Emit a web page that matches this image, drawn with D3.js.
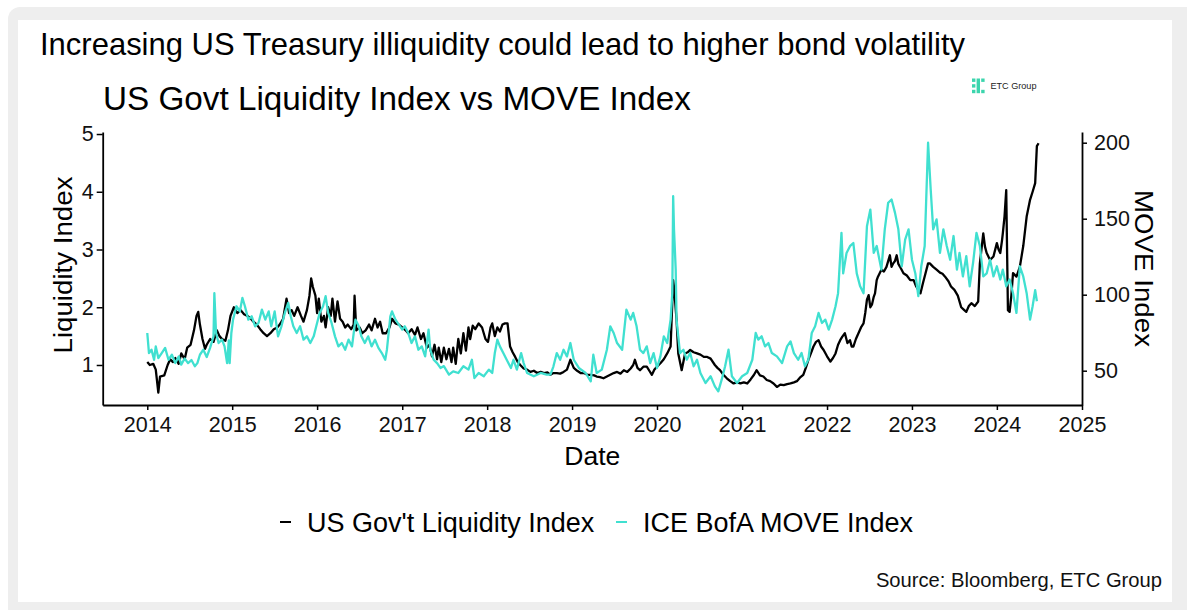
<!DOCTYPE html>
<html>
<head>
<meta charset="utf-8">
<script src="https://cdn.jsdelivr.net/npm/d3@7"></script>
<style>
  html, body { margin: 0; padding: 0; background: #ffffff; }
  svg { display: block; font-family: "Liberation Sans", Arial, Helvetica, sans-serif; }
</style>
</head>
<body>
<svg id="chart" width="1187" height="610"></svg>
<script>
// ---- data (decimal years / index levels) ----
const liqYears = [
  2014.00,2014.03,2014.07,2014.10,2014.13,2014.15,2014.20,2014.24,2014.27,2014.30,2014.33,2014.37,2014.40,2014.44,2014.47,2014.51,2014.55,2014.58,2014.60,2014.62,2014.65,2014.68,2014.70,2014.74,2014.78,2014.82,2014.85,2014.88,2014.92,2014.95,2014.98,
  2015.02,2015.06,2015.10,2015.14,2015.18,2015.22,2015.25,2015.29,2015.33,2015.37,2015.41,2015.45,2015.49,2015.53,2015.56,2015.60,2015.64,2015.67,2015.70,2015.73,2015.77,2015.81,2015.84,2015.88,2015.91,2015.93,2015.95,2015.98,
  2016.00,2016.02,2016.05,2016.08,2016.10,2016.13,2016.16,2016.18,2016.21,2016.24,2016.27,2016.30,2016.33,2016.36,2016.40,2016.43,2016.44,2016.46,2016.50,2016.53,2016.57,2016.61,2016.64,2016.68,2016.71,2016.74,2016.77,2016.81,2016.85,2016.88,2016.92,2016.96,
  2017.00,2017.04,2017.07,2017.11,2017.15,2017.18,2017.22,2017.25,2017.29,2017.32,2017.35,2017.38,2017.41,2017.43,2017.46,2017.49,2017.52,2017.55,2017.58,2017.60,2017.63,2017.66,2017.69,2017.72,2017.75,2017.78,2017.80,2017.83,2017.86,2017.90,2017.94,2017.98,
  2018.01,2018.04,2018.06,2018.09,2018.12,2018.15,2018.18,2018.21,2018.24,2018.27,2018.30,2018.33,2018.36,2018.39,2018.43,2018.47,2018.51,2018.55,2018.59,2018.63,2018.67,2018.71,2018.745,2018.78,2018.82,2018.86,2018.90,2018.94,2018.98,
  2019.02,2019.06,2019.10,2019.14,2019.18,2019.22,2019.26,2019.29,2019.33,2019.37,2019.41,2019.45,2019.49,2019.53,2019.57,2019.61,2019.65,2019.69,2019.72,2019.74,2019.77,2019.80,2019.84,2019.88,2019.91,2019.94,2019.97,
  2020.00,2020.04,2020.08,2020.12,2020.16,2020.19,2020.20,2020.23,2020.25,2020.29,2020.33,2020.36,2020.39,2020.43,2020.47,2020.51,2020.55,2020.59,2020.63,2020.68,2020.71,2020.74,2020.78,2020.82,2020.86,2020.90,2020.94,2020.98,
  2021.02,2021.06,2021.10,2021.14,2021.17,2021.21,2021.25,2021.29,2021.33,2021.37,2021.41,2021.45,2021.49,2021.53,2021.57,2021.61,2021.645,2021.68,2021.72,2021.75,2021.78,2021.81,2021.84,2021.87,2021.90,2021.93,2021.96,
  2022.00,2022.04,2022.07,2022.10,2022.13,2022.155,2022.18,2022.21,2022.24,2022.27,2022.29,2022.31,2022.34,2022.37,2022.40,2022.43,2022.45,2022.47,2022.49,2022.51,2022.53,2022.55,2022.565,2022.585,2022.60,2022.64,2022.67,2022.70,2022.72,2022.74,2022.76,2022.78,2022.80,2022.82,2022.84,2022.86,2022.90,2022.94,2022.98,
  2023.02,2023.05,2023.075,2023.10,2023.13,2023.16,2023.19,2023.21,2023.25,2023.29,2023.33,2023.36,2023.39,2023.43,2023.46,2023.50,2023.54,2023.58,2023.61,2023.64,2023.67,2023.70,2023.74,2023.78,2023.80,2023.84,2023.86,2023.88,2023.92,2023.96,
  2024.00,2024.02,2024.04,2024.06,2024.07,2024.09,2024.11,2024.13,2024.15,2024.17,2024.19,2024.23,2024.27,2024.31,2024.35,2024.39,2024.42,2024.45,2024.47,2024.49
];
const liqValues = [
  1.05,1.00,1.02,0.92,0.52,0.80,0.82,1.00,1.10,1.05,1.12,1.02,1.20,1.10,1.30,1.35,1.60,1.85,1.92,1.70,1.45,1.28,1.35,1.45,1.40,1.60,1.50,1.45,1.42,1.60,1.85,
  2.00,1.90,1.95,1.88,1.85,1.80,1.75,1.70,1.62,1.55,1.50,1.55,1.62,1.65,1.70,1.80,2.15,1.90,1.95,1.85,2.00,1.85,1.75,1.95,2.20,2.50,2.35,2.20,
  1.90,2.15,1.75,1.85,1.65,2.00,1.85,2.15,1.75,2.10,1.80,1.75,1.65,1.70,1.62,1.70,2.20,1.60,1.65,1.55,1.60,1.70,1.60,1.80,1.65,1.75,1.55,1.55,1.65,1.80,1.72,1.70,
  1.65,1.60,1.55,1.62,1.52,1.65,1.45,1.55,1.30,1.35,1.15,1.35,1.10,1.30,1.05,1.30,1.10,1.28,1.05,1.30,1.02,1.45,1.20,1.55,1.25,1.65,1.45,1.68,1.62,1.72,1.65,1.45,
  1.40,1.65,1.72,1.50,1.65,1.58,1.70,1.72,1.72,1.32,1.22,1.14,1.05,1.00,0.94,0.92,0.88,0.90,0.86,0.88,0.86,0.87,0.83,0.86,0.86,0.85,0.88,0.92,1.09,
  0.95,0.90,0.86,0.86,0.83,0.83,0.82,0.80,0.79,0.77,0.80,0.83,0.86,0.88,0.85,0.91,0.88,0.94,1.00,1.09,0.95,0.91,0.97,0.97,0.90,0.83,0.92,
  0.97,1.03,1.10,1.20,1.32,2.47,2.35,1.78,1.20,0.91,1.20,1.22,1.26,1.22,1.20,1.18,1.14,1.14,1.11,1.00,0.95,0.91,0.83,0.77,0.72,0.68,0.70,0.68,
  0.70,0.68,0.75,0.83,0.91,0.82,0.80,0.74,0.72,0.68,0.62,0.66,0.65,0.67,0.68,0.70,0.72,0.78,0.83,0.95,1.09,1.20,1.32,1.40,1.43,1.32,1.26,
  1.15,1.06,1.12,1.20,1.35,1.43,1.49,1.55,1.38,1.43,1.32,1.32,1.45,1.55,1.65,1.72,1.90,2.13,2.21,2.00,2.05,2.18,2.24,2.47,2.53,2.65,2.62,2.70,2.80,2.90,2.70,2.76,2.80,2.90,2.75,2.70,2.59,2.55,2.47,
  2.47,2.36,2.30,2.24,2.42,2.59,2.76,2.76,2.70,2.65,2.60,2.58,2.53,2.45,2.36,2.30,2.20,2.00,1.96,1.92,2.02,2.07,2.02,2.10,2.76,3.28,3.05,2.94,2.82,2.88,
  3.11,3.00,2.94,3.15,3.28,3.57,4.03,1.95,1.92,2.20,2.59,2.53,2.70,3.06,3.57,3.86,4.00,4.15,4.79,4.84
];

const moveYears = [
  2014.00,2014.02,2014.05,2014.08,2014.10,2014.13,2014.17,2014.21,2014.25,2014.29,2014.33,2014.37,2014.40,2014.44,2014.48,2014.52,2014.56,2014.59,2014.62,2014.66,2014.70,2014.74,2014.78,2014.79,2014.81,2014.84,2014.88,2014.91,2014.94,2014.96,2014.97,2014.99,
  2015.01,2015.05,2015.09,2015.12,2015.15,2015.19,2015.23,2015.27,2015.31,2015.35,2015.39,2015.43,2015.46,2015.50,2015.54,2015.58,2015.62,2015.66,2015.69,2015.72,2015.76,2015.80,2015.84,2015.88,2015.92,2015.96,2015.99,
  2016.03,2016.07,2016.10,2016.13,2016.17,2016.21,2016.25,2016.29,2016.33,2016.37,2016.41,2016.45,2016.49,2016.52,2016.56,2016.60,2016.64,2016.68,2016.72,2016.76,2016.80,2016.82,2016.86,2016.88,2016.92,2016.96,
  2017.00,2017.03,2017.07,2017.11,2017.15,2017.19,2017.23,2017.27,2017.31,2017.33,2017.37,2017.41,2017.45,2017.49,2017.55,2017.60,2017.66,2017.72,2017.78,2017.82,2017.85,2017.90,2017.96,
  2018.02,2018.06,2018.09,2018.12,2018.15,2018.19,2018.23,2018.28,2018.31,2018.35,2018.40,2018.43,2018.47,2018.55,2018.63,2018.70,2018.745,2018.78,2018.82,2018.86,2018.90,2018.94,2018.98,
  2019.02,2019.08,2019.16,2019.22,2019.25,2019.29,2019.35,2019.41,2019.45,2019.49,2019.53,2019.59,2019.64,2019.69,2019.72,2019.76,2019.80,2019.84,2019.88,2019.92,2019.96,
  2020.00,2020.04,2020.08,2020.12,2020.16,2020.18,2020.19,2020.20,2020.22,2020.23,2020.27,2020.31,2020.35,2020.39,2020.43,2020.47,2020.51,2020.57,2020.63,2020.68,2020.72,2020.76,2020.80,2020.84,2020.88,2020.94,
  2021.00,2021.06,2021.12,2021.16,2021.19,2021.23,2021.27,2021.31,2021.35,2021.41,2021.47,2021.53,2021.57,2021.61,2021.66,2021.70,2021.74,2021.78,2021.82,2021.86,2021.90,2021.94,2021.98,
  2022.02,2022.06,2022.10,2022.13,2022.17,2022.19,2022.23,2022.27,2022.31,2022.35,2022.39,2022.43,2022.47,2022.51,2022.55,2022.585,2022.64,2022.68,2022.72,2022.76,2022.80,2022.84,2022.88,2022.92,2022.96,
  2023.00,2023.04,2023.075,2023.11,2023.15,2023.19,2023.22,2023.25,2023.29,2023.33,2023.37,2023.41,2023.45,2023.49,2023.53,2023.56,2023.60,2023.64,2023.68,2023.72,2023.76,2023.80,2023.84,2023.88,2023.92,2023.96,
  2024.00,2024.04,2024.07,2024.11,2024.15,2024.19,2024.23,2024.27,2024.31,2024.35,2024.39,2024.42,2024.45,2024.47
];
const moveValues = [
  74.8,61.6,63.8,57.2,66.0,58.3,61.6,65.0,57.2,60.5,55.0,59.4,54.0,58.0,55.0,57.0,52.9,55.0,60.5,63.8,59.0,65.0,72.6,101.0,74.8,68.2,70.4,66.0,55.0,70.0,55.0,74.8,
  83.6,92.4,89.0,97.9,92.4,83.6,85.8,79.2,81.4,90.2,83.6,89.0,79.2,89.0,72.6,79.2,88.0,94.6,85.8,79.2,74.8,79.2,70.4,72.6,68.2,72.6,79.2,
  88.0,92.4,99.0,88.0,81.4,72.6,66.0,68.2,63.8,70.4,66.0,83.6,79.2,72.6,68.2,72.6,66.0,70.4,65.0,61.6,57.2,63.8,85.8,89.0,83.6,80.3,
  77.0,79.2,74.8,68.2,72.6,63.8,66.0,59.4,77.0,63.8,57.2,55.0,51.8,53.0,47.4,49.6,48.5,52.9,50.7,57.2,45.2,48.5,46.3,
  50.7,48.5,61.6,70.4,66.0,61.6,57.2,51.8,57.2,50.7,61.6,55.0,48.5,46.3,48.5,47.4,47.4,52.7,61.6,57.2,63.8,59.4,68.2,
  57.2,51.8,48.5,43.0,60.5,48.5,50.7,63.8,79.2,74.8,68.2,63.8,90.2,83.6,88.0,79.2,63.8,61.6,66.0,55.0,61.6,
  51.8,59.4,72.6,68.2,83.6,101.0,164.8,142.9,116.5,83.6,61.6,63.8,57.2,61.6,52.9,57.2,48.5,41.9,46.3,39.7,36.4,44.1,52.9,63.8,46.3,41.9,
  46.3,48.5,57.2,74.8,70.4,72.6,66.0,68.2,61.6,59.4,55.0,66.0,69.3,61.6,57.2,61.6,52.9,57.2,74.8,79.2,88.0,81.4,83.6,
  77.0,83.6,92.4,101.0,140.7,114.0,127.5,131.9,134.0,114.0,105.5,101.0,145.0,156.0,127.5,132.0,116.5,143.0,160.5,162.6,154.0,143.0,118.7,136.3,143.0,
  123.0,114.0,99.0,118.7,132.0,200.0,170.0,143.0,149.5,127.5,143.0,132.0,123.0,138.6,116.5,127.5,112.0,125.4,105.5,121.0,140.7,132.0,112.0,114.0,123.0,112.0,
  118.7,110.0,116.5,105.5,110.0,101.0,88.0,118.7,112.0,101.0,83.6,92.4,103.0,95.7
];

const yearTicks = d3.range(2014, 2026);
const liqTicks = [1, 2, 3, 4, 5];
const moveTicks = [50, 100, 150, 200];

const seriesNames = ["US Gov't Liquidity Index", "ICE BofA MOVE Index"];
const seriesColors = ["#000000", "#40E0D0"];

// ---- helpers ----
function yearToDate(y) {
  const yr = Math.floor(y);
  const a = new Date(yr, 0, 1), b = new Date(yr + 1, 0, 1);
  return new Date(+a + (y - yr) * (b - a));
}

const liqData = liqYears.map((y, i) => ({ date: yearToDate(y), value: liqValues[i] }));
const moveData = moveYears.map((y, i) => ({ date: yearToDate(y), value: moveValues[i] }));

// ---- layout ----
const svg = d3.select("#chart");
const W = 1187, H = 610;
const plot = { left: 102.7, right: 1082, top: 132, bottom: 405 };

// card background
svg.append("rect").attr("x", 0).attr("y", 0).attr("width", W).attr("height", H).attr("fill", "#ffffff");
svg.append("rect").attr("x", 8).attr("y", 7).attr("width", W + 20).attr("height", H + 20)
  .attr("rx", 12).attr("fill", "#eeeeee");
svg.append("rect").attr("x", 18).attr("y", 20).attr("width", 1154).attr("height", 582).attr("fill", "#ffffff");

// ---- scales ----
const x = d3.scaleTime()
  .domain([yearToDate(2013.475), new Date(2025, 0, 1)])
  .range([plot.left, plot.right]);
const yL = d3.scaleLinear().domain([0.307, 5.035]).range([plot.bottom, plot.top]);
const yM = d3.scaleLinear().domain([27.43, 207.04]).range([plot.bottom, plot.top]);

// ---- titles ----
svg.append("text").attr("x", 40).attr("y", 55)
  .attr("font-size", 30.5).attr("fill", "#000")
  .attr("textLength", 925).attr("lengthAdjust", "spacingAndGlyphs")
  .text("Increasing US Treasury illiquidity could lead to higher bond volatility");

svg.append("text").attr("x", 103).attr("y", 110)
  .attr("font-size", 33).attr("fill", "#000")
  .attr("textLength", 588).attr("lengthAdjust", "spacingAndGlyphs")
  .text("US Govt Liquidity Index vs MOVE Index");

// logo mark + wordmark
const logo = svg.append("g").attr("fill", "#3cd5ad");
[[972, 78.5], [972, 84.2], [972, 89.8], [981.2, 78.5], [981.2, 89.8]].forEach(([lx, ly]) => {
  logo.append("rect").attr("x", lx).attr("y", ly).attr("width", 3.4).attr("height", 3.4);
});
logo.append("rect").attr("x", 976.6).attr("y", 78.5).attr("width", 3.4).attr("height", 14.7);
svg.append("text").attr("x", 990.5).attr("y", 89).attr("font-size", 8.6)
  .attr("fill", "#222").attr("textLength", 46).attr("lengthAdjust", "spacingAndGlyphs")
  .text("ETC Group");

// ---- lines ----
const lineL = d3.line().x(d => x(d.date)).y(d => yL(d.value));
const lineM = d3.line().x(d => x(d.date)).y(d => yM(d.value));

svg.append("path").datum(liqData).attr("d", lineL)
  .attr("fill", "none").attr("stroke", seriesColors[0]).attr("stroke-width", 2.3)
  .attr("stroke-linejoin", "round");
svg.append("path").datum(moveData).attr("d", lineM)
  .attr("fill", "none").attr("stroke", seriesColors[1]).attr("stroke-width", 2.3)
  .attr("stroke-linejoin", "round");

// ---- axes ----
function styleAxis(g) {
  g.select(".domain").attr("stroke", "#000").attr("stroke-width", 1.8);
  g.selectAll(".tick line").attr("stroke", "#000").attr("stroke-width", 1.5);
  g.selectAll(".tick text").attr("fill", "#111").attr("font-size", 21.5)
    .attr("font-family", "Liberation Sans, Arial, sans-serif");
}

svg.append("g").attr("transform", `translate(0,${plot.bottom})`)
  .call(d3.axisBottom(x).tickValues(yearTicks.map(y => new Date(y, 0, 1)))
    .tickFormat(d3.timeFormat("%Y")).tickSize(5).tickSizeOuter(0).tickPadding(7))
  .call(styleAxis);

svg.append("g").attr("transform", `translate(${plot.left},0)`)
  .call(d3.axisLeft(yL).tickValues(liqTicks).tickFormat(d3.format("d"))
    .tickSize(6).tickSizeOuter(0).tickPadding(3))
  .call(styleAxis);

svg.append("g").attr("transform", `translate(${plot.right},0)`)
  .call(d3.axisRight(yM).tickValues(moveTicks).tickFormat(d3.format("d"))
    .tickSize(5).tickSizeOuter(0).tickPadding(7))
  .call(styleAxis);

// axis titles
svg.append("text").attr("x", (x.range()[0] + x.range()[1]) / 2).attr("y", 465)
  .attr("text-anchor", "middle").attr("font-size", 26.5).attr("fill", "#000")
  .text("Date");

svg.append("text").attr("transform", "translate(72,265) rotate(-90)")
  .attr("text-anchor", "middle").attr("font-size", 26).attr("fill", "#000")
  .attr("textLength", 177).attr("lengthAdjust", "spacingAndGlyphs")
  .text("Liquidity Index");

svg.append("text").attr("transform", "translate(1135,268.5) rotate(90)")
  .attr("text-anchor", "middle").attr("font-size", 26).attr("fill", "#000")
  .attr("textLength", 157).attr("lengthAdjust", "spacingAndGlyphs")
  .text("MOVE Index");

// ---- legend ----
const legendItems = [
  { name: seriesNames[0], color: seriesColors[0], kx: 280, tx: 307 },
  { name: seriesNames[1], color: seriesColors[1], kx: 616, tx: 643 }
];
legendItems.forEach(item => {
  svg.append("line").attr("x1", item.kx).attr("x2", item.kx + 11)
    .attr("y1", 522).attr("y2", 522)
    .attr("stroke", item.color).attr("stroke-width", 2);
  svg.append("text").attr("x", item.tx).attr("y", 532)
    .attr("font-size", 27).attr("fill", "#000").text(item.name);
});

// source note
svg.append("text").attr("x", 1162).attr("y", 587)
  .attr("text-anchor", "end").attr("font-size", 20.2).attr("fill", "#111")
  .text("Source: Bloomberg, ETC Group");
</script>
</body>
</html>
